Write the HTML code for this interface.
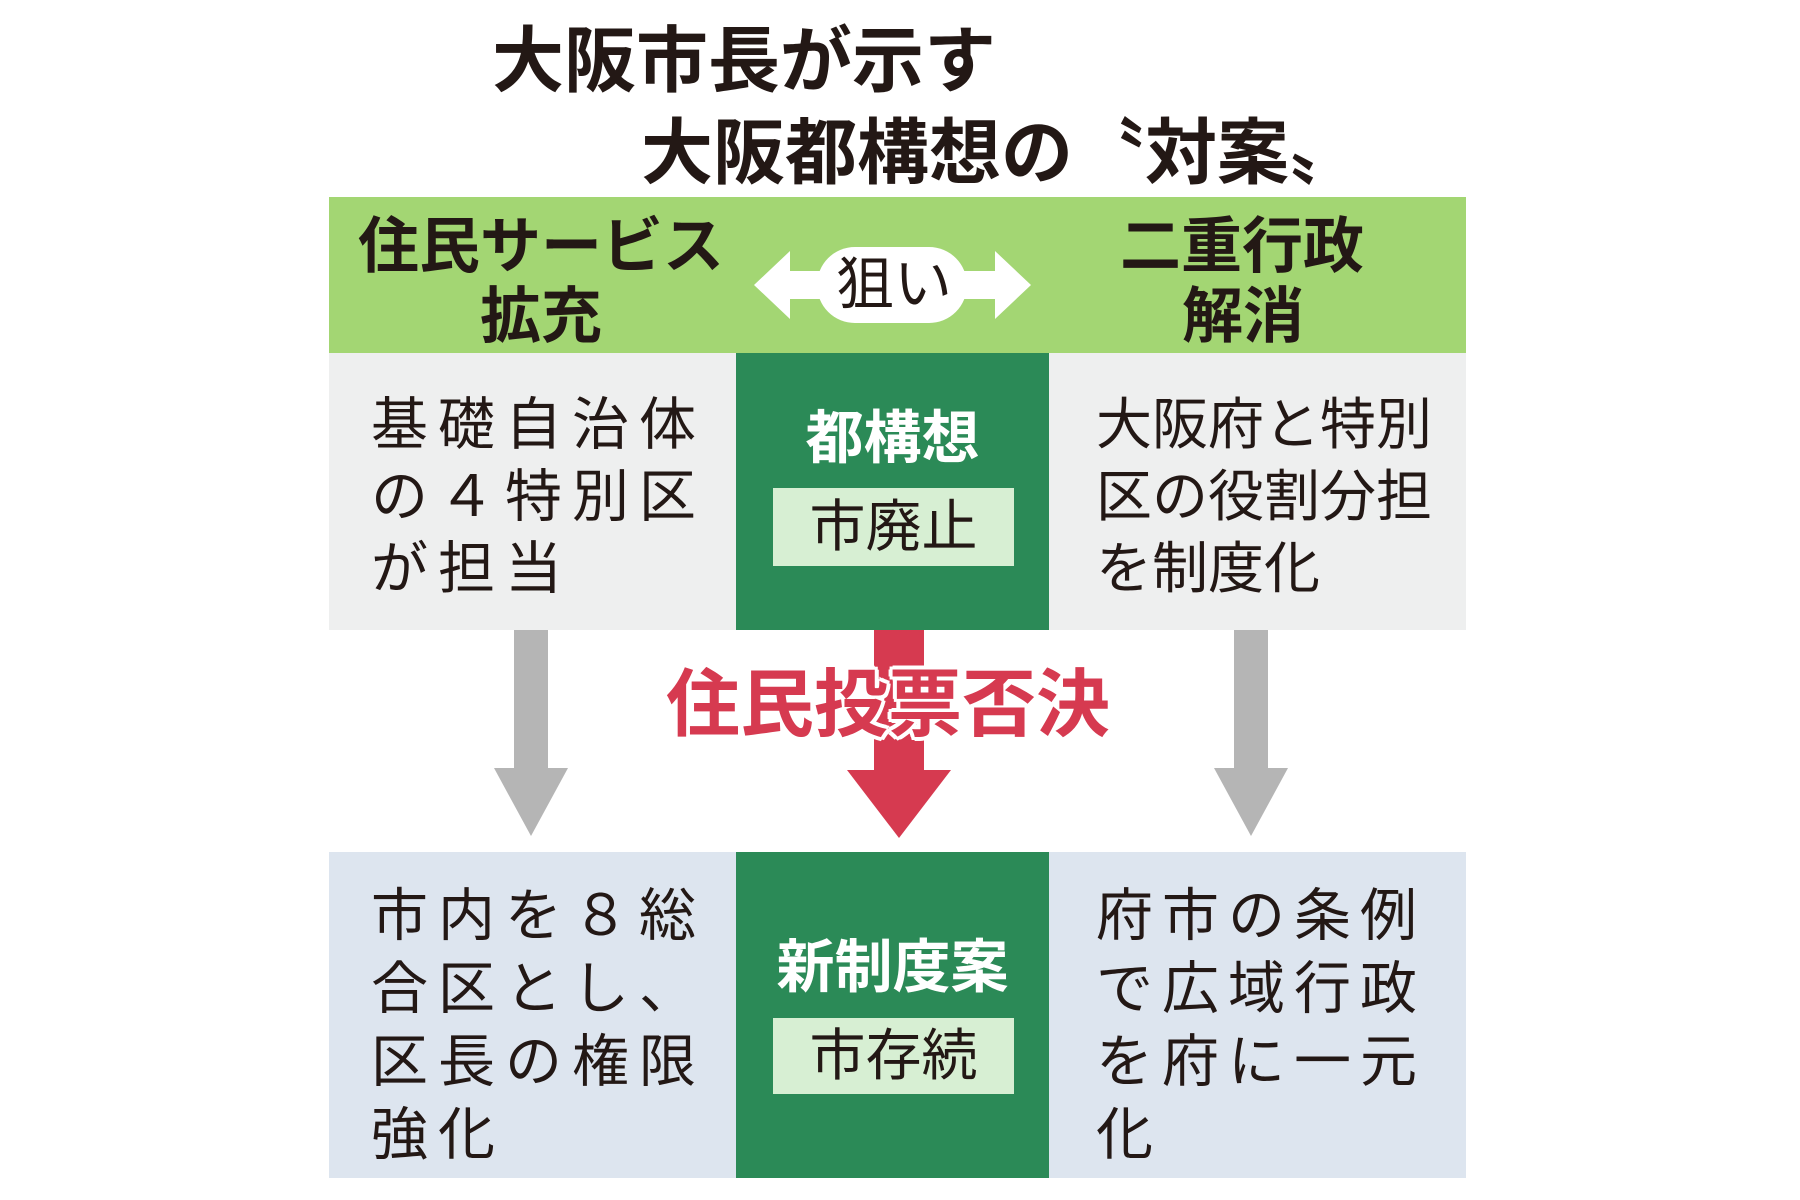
<!DOCTYPE html>
<html><head><meta charset="utf-8"><style>
body{margin:0;width:1800px;height:1200px;background:#fff;position:relative;overflow:hidden;font-family:"Liberation Sans","Noto Sans CJK JP",sans-serif;color:#231815}
div{position:absolute;box-sizing:border-box}
.t{white-space:nowrap;line-height:1}
.b{font-weight:bold}
</style></head><body>
<div class="t b" style="left:492px;top:26px;font-size:72px">大阪市長が示す</div>
<div class="t b" style="left:641px;top:118px;font-size:72px">大阪都構想の〝対案〟</div>

<div style="left:329px;top:197px;width:1137px;height:156px;background:#a3d673"></div>
<div class="t b" style="left:358px;top:216px;font-size:61px">住民サービス</div>
<div class="t b" style="left:480px;top:286px;font-size:61px">拡充</div>
<div class="t b" style="left:1120px;top:216px;font-size:61px">二重行政</div>
<div class="t b" style="left:1182px;top:286px;font-size:61px">解消</div>
<svg style="position:absolute;left:750px;top:245px" width="285" height="80">
<polygon points="4,40 40,6 40,26 245,26 245,6 281,40 245,74 245,54 40,54 40,74" fill="#fff"/>
<rect x="67" y="2" width="150" height="76" rx="38" fill="#fff"/>
</svg>
<div class="t" style="left:836px;top:256px;font-size:58px">狙い</div>

<div style="left:329px;top:353px;width:1137px;height:277px;background:#eeefef"></div>
<div style="left:736px;top:353px;width:313px;height:277px;background:#2b8a57"></div>
<div class="t" style="left:371px;top:389px;font-size:57px;letter-spacing:10px;line-height:72px">基礎自治体<br>の４特別区<br>が担当</div>
<div class="t" style="left:1096px;top:389px;font-size:56px;line-height:72px">大阪府と特別<br>区の役割分担<br>を制度化</div>
<div class="t b" style="left:736px;width:313px;text-align:center;top:410px;font-size:58px;color:#fff">都構想</div>
<div style="left:773px;top:488px;width:241px;height:78px;background:#d7efd3"></div>
<div class="t" style="left:773px;width:241px;text-align:center;top:499px;font-size:56px">市廃止</div>

<div style="left:514px;top:630px;width:34px;height:140px;background:#b5b5b5"></div>
<svg style="position:absolute;left:494px;top:768px" width="74" height="68"><polygon points="0,0 74,0 37,68" fill="#b5b5b5"/></svg>
<div style="left:1234px;top:630px;width:34px;height:140px;background:#b5b5b5"></div>
<svg style="position:absolute;left:1214px;top:768px" width="74" height="68"><polygon points="0,0 74,0 37,68" fill="#b5b5b5"/></svg>
<div style="left:874px;top:630px;width:50px;height:142px;background:#d63a50"></div>
<svg style="position:absolute;left:847px;top:770px" width="104" height="68"><polygon points="0,0 104,0 52,68" fill="#d63a50"/></svg>
<div class="t b" style="left:666px;top:668px;font-size:74px;color:#d63a50;text-shadow:4px 0 #fff,-4px 0 #fff,0 4px #fff,0 -4px #fff,3px 3px #fff,-3px -3px #fff,3px -3px #fff,-3px 3px #fff">住民投票否決</div>

<div style="left:329px;top:852px;width:1137px;height:326px;background:#dde5ef"></div>
<div style="left:736px;top:852px;width:313px;height:326px;background:#2b8a57"></div>
<div class="t" style="left:371px;top:880px;font-size:57px;letter-spacing:10px;line-height:73px">市内を８総<br>合区とし、<br>区長の権限<br>強化</div>
<div class="t" style="left:1096px;top:880px;font-size:57px;letter-spacing:9px;line-height:73px">府市の条例<br>で広域行政<br>を府に一元<br>化</div>
<div class="t b" style="left:736px;width:313px;text-align:center;top:939px;font-size:58px;color:#fff">新制度案</div>
<div style="left:773px;top:1018px;width:241px;height:76px;background:#d7efd3"></div>
<div class="t" style="left:773px;width:241px;text-align:center;top:1028px;font-size:56px">市存続</div>
</body></html>
